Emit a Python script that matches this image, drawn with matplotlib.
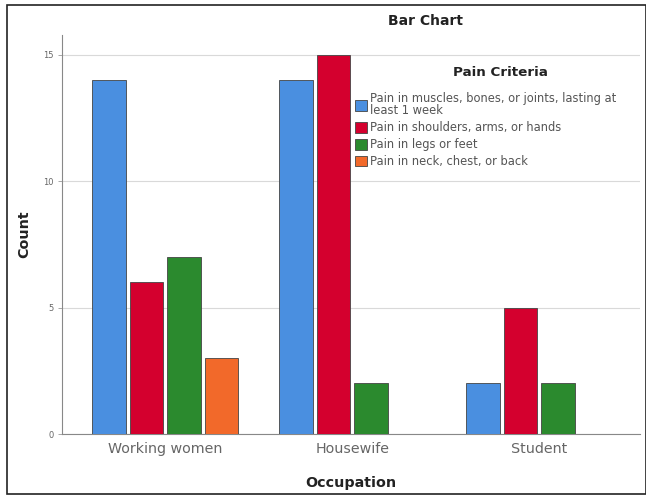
import matplotlib
matplotlib.use("Agg")
import matplotlib.pyplot as plt
import numpy as np
from matplotlib.patches import Rectangle

occupations = ["Working women", "Housewife", "Student"]
criteria = [
    "Pain in muscles, bones, or joints, lasting at\nleast 1 week",
    "Pain in shoulders, arms, or hands",
    "Pain in legs or feet",
    "Pain in neck, chest, or back",
]
counts = {
    criteria[0]: [14, 14, 2],
    criteria[1]: [6, 15, 5],
    criteria[2]: [7, 2, 2],
    criteria[3]: [3, np.nan, np.nan],
}
colors = ["#4a8fe0", "#d4002e", "#2b8a2e", "#f2692a"]
yticks = [0, 5, 10, 15]

fig = plt.figure(figsize=(6.46, 4.97), dpi=100)
ax = fig.add_axes([62/646, 1-434/497, (640-62)/646, (434-35)/497])

x = np.arange(len(occupations))
width = 0.18
offsets = [-0.3, -0.1, 0.1, 0.3]
for i, c in enumerate(criteria):
    vals = np.array(counts[c], dtype=float)
    mask = ~np.isnan(vals)
    ax.bar(x[mask] + offsets[i], vals[mask], width=width, color=colors[i],
           edgecolor="#444444", linewidth=0.6, label=c, zorder=3)

ax.set_xlim(-0.553, 2.54)
ax.set_ylim(0, 15.79)
ax.set_yticks(yticks)
ax.set_yticklabels([str(t) for t in yticks], fontsize=6, color="#666666")
ax.set_xticks(x)
ax.set_xticklabels(occupations, fontsize=10.3, color="#666666")
ax.tick_params(axis="y", length=3, width=0.6, color="#999999", pad=3)
ax.tick_params(axis="x", length=0, pad=6)
ax.grid(axis="y", color="#d9d9d9", linewidth=0.8, zorder=0)
for s in ["top", "right"]:
    ax.spines[s].set_visible(False)
for s in ["left", "bottom"]:
    ax.spines[s].set_color("#888888")
    ax.spines[s].set_linewidth(0.8)

ax.set_xlabel("Occupation", fontsize=10.3, fontweight="bold", color="#222222")
ax.xaxis.set_label_coords(0.5, (434-476)/399)
ax.set_ylabel("Count", fontsize=10.3, fontweight="bold", color="#222222")
ax.yaxis.set_label_coords((31-62)/578, 0.5)

fig.text(426/646, 1-21/497, "Bar Chart", ha="center", va="center",
         fontsize=10, fontweight="bold", color="#222222")
fig.text(500/646, 1-72/497, "Pain Criteria", ha="center", va="center",
         fontsize=9.7, fontweight="bold", color="#222222")

leg = ax.legend(loc="upper left", bbox_to_anchor=(355/646, 1-92/497),
                bbox_transform=fig.transFigure, frameon=False, fontsize=8.3,
                handlelength=1.05, handleheight=1.05, handletextpad=0.25,
                labelspacing=0.33, borderpad=0, borderaxespad=0)
for t in leg.get_texts():
    t.set_color("#555555")
    t.set_linespacing(0.95)

# outer frame
fig.patches.append(Rectangle((7/646, 1-494/497), (646-7)/646, (494-5)/497,
                             transform=fig.transFigure, fill=False,
                             edgecolor="#222222", linewidth=1.2))

fig.savefig("out.png", dpi=100)
